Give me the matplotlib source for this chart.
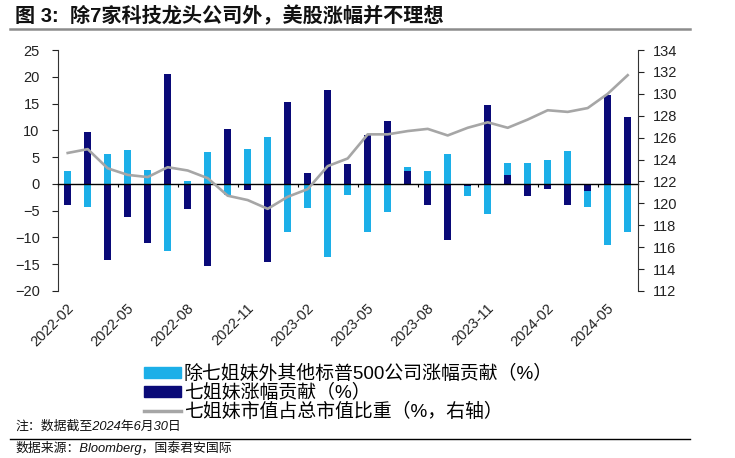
import matplotlib
matplotlib.use("Agg")
import matplotlib.pyplot as plt
import numpy as np
from matplotlib.patches import Patch
from matplotlib.lines import Line2D

months = ['2022-02', '2022-03', '2022-04', '2022-05', '2022-06', '2022-07', '2022-08',
          '2022-09', '2022-10', '2022-11', '2022-12', '2023-01', '2023-02', '2023-03',
          '2023-04', '2023-05', '2023-06', '2023-07', '2023-08', '2023-09', '2023-10',
          '2023-11', '2023-12', '2024-01', '2024-02', '2024-03', '2024-04', '2024-05',
          '2024-06']
others = [2.5, -4.35, 5.5, 6.3, 2.6, -12.5, 0.6, 5.9, -2.0, 6.5, 8.8, -9.0, -4.5, -13.7,
          -2.1, -8.9, -5.2, 3.2, 2.4, 5.65, -2.3, -5.65, 3.9, 3.9, 4.5, 6.2, -4.3, -11.4, -9.0]
mag7 = [-3.85, 9.6, -14.2, -6.2, -11.0, 20.6, -4.6, -15.3, 10.2, -1.05, -14.5, 15.3, 2.1,
        17.6, 3.7, 9.2, 11.8, 2.5, -3.9, -10.5, -0.4, 14.7, 1.75, -2.3, -0.95, -3.85, -1.4,
        16.6, 12.5]
weight = [124.6, 124.95, 123.2, 122.6, 122.4, 123.3, 123.0, 122.3, 120.7, 120.3, 119.5,
          120.6, 121.3, 123.4, 124.1, 126.3, 126.3, 126.6, 126.8, 126.2, 126.9, 127.4,
          126.9, 127.65, 128.5, 128.35, 128.7, 130.0, 131.7]

title = '图 3:  除7家科技龙头公司外，美股涨幅并不理想'
legend_labels = ['除七姐妹外其他标普500公司涨幅贡献（%）', '七姐妹涨幅贡献（%）',
                 '七姐妹市值占总市值比重（%，右轴）']
note1 = '注：数据截至2024年6月30日'
note2 = '数据来源：Bloomberg，国泰君安国际'

C_LIGHT = '#1CAFE8'
C_DARK = '#0A0A78'
C_LINE = '#A6A6A6'
FONTS = ['Liberation Sans', 'Noto Sans CJK SC', 'DejaVu Sans']
plt.rcParams['font.family'] = FONTS

fig = plt.figure(figsize=(7.35, 4.58), dpi=100)
ax = fig.add_axes([57.7 / 735, 1 - 291 / 458, 580 / 735, 241 / 458])
x = np.arange(len(months))
w = 0.37
ax.bar(x, others, width=w, color=C_LIGHT, zorder=2)
ax.bar(x, mag7, width=w, color=C_DARK, zorder=3)
ax.set_xlim(-0.5, len(months) - 0.5)
ax.set_ylim(-20, 25)
ax.set_yticks(np.arange(-20, 26, 5))
ax.tick_params(axis='y', direction='out', length=4, width=0.8, pad=9, labelsize=10.5,
               colors='#222222')
for s in ['top', 'right']:
    ax.spines[s].set_visible(False)
ax.spines['left'].set_color('#333333')
ax.spines['bottom'].set_position(('data', 0))
ax.spines['bottom'].set_color('black')
ax.spines['bottom'].set_linewidth(1.0)
ax.spines['bottom'].set_zorder(4)
ax.set_xticks(np.arange(-0.5, len(months), 3))
ax.tick_params(axis='x', direction='out', length=2.5, width=0.8, labelbottom=False)

sec = ax.secondary_xaxis('bottom')
sec.set_xticks(x[::3], [months[i] for i in x[::3]])
sec.spines['bottom'].set_visible(False)
sec.tick_params(axis='x', length=0, pad=11, labelsize=10.5, colors='#222222')
for lab in sec.get_xticklabels():
    lab.set_rotation(45)
    lab.set_ha('right')
    lab.set_va('center')
    lab.set_rotation_mode('anchor')
    lab.set_x(lab.get_position()[0])
sec.xaxis.set_tick_params(which='major')
import matplotlib.transforms as mtransforms
offset = mtransforms.ScaledTranslation(4 / 100, 0, fig.dpi_scale_trans)
for lab in sec.get_xticklabels():
    lab.set_transform(lab.get_transform() + offset)

ax2 = ax.twinx()
ax2.plot(x, weight, color=C_LINE, lw=1.9, zorder=5)
ax2.set_ylim(112, 134)
ax2.set_yticks(np.arange(112, 135, 2))
ax2.tick_params(axis='y', direction='out', length=4, width=0.8, pad=7, labelsize=10.5,
                colors='#222222')
for s in ['top', 'left', 'bottom']:
    ax2.spines[s].set_visible(False)
ax2.spines['right'].set_color('#333333')

handles = [Patch(color=C_LIGHT), Patch(color=C_DARK), Line2D([], [], color=C_LINE, lw=2.5)]
fig.legend(handles, legend_labels, loc='upper left', bbox_to_anchor=(144 / 735, 1 - 365 / 458),
           frameon=False, borderpad=0, borderaxespad=0, handlelength=1.95,
           handleheight=0.55, handletextpad=0.15, labelspacing=0.05,
           prop={'family': FONTS, 'size': 13.6})

fig.text(15 / 735, 1 - 16 / 458, title, fontsize=14.5, fontweight='bold', va='center',
         ha='left', color='#111111')
fig.add_artist(Line2D([10 / 735, 690 / 735], [1 - 29 / 458] * 2, color='#8C8C8C', lw=1.8))
fig.text(15 / 735, 1 - 427 / 458, note1, fontsize=9.3, style='italic', va='center', ha='left',
         color='#111111')
fig.add_artist(Line2D([10 / 735, 690 / 735], [1 - 438.5 / 458] * 2, color='black', lw=1.0))
fig.text(15 / 735, 1 - 447.5 / 458, note2, fontsize=9.3, style='italic', va='center', ha='left',
         color='#111111')

fig.savefig('out.png', dpi=100)
